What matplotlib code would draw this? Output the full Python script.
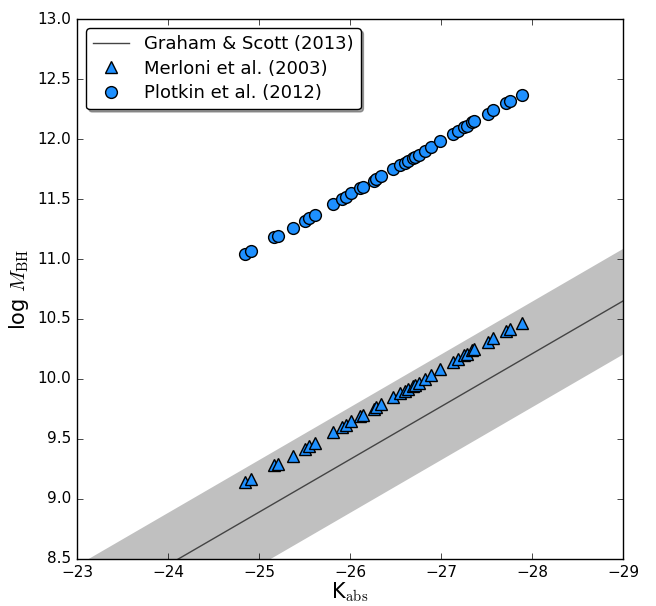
import numpy as np
import matplotlib
matplotlib.use("Agg")
import matplotlib.pyplot as plt

# ==============================================================================
# DATA
# ==============================================================================
# absolute K-band magnitudes of the sample
K_ABS = [-24.85, -24.91, -25.17, -25.21, -25.37, -25.50, -25.55, -25.61,
         -25.81, -25.91, -25.96, -26.01, -26.11, -26.14, -26.26, -26.29,
         -26.34, -26.47, -26.55, -26.60, -26.64, -26.69, -26.71, -26.76,
         -26.82, -26.89, -26.99, -27.13, -27.19, -27.25, -27.29, -27.34,
         -27.36, -27.52, -27.57, -27.71, -27.76, -27.89]

# log M_BH, Plotkin et al. (2012)
LOGM_PLOTKIN = [11.04, 11.07, 11.18, 11.19, 11.26, 11.32, 11.34, 11.37,
                11.46, 11.50, 11.52, 11.55, 11.59, 11.60, 11.65, 11.67,
                11.69, 11.75, 11.78, 11.80, 11.82, 11.84, 11.85, 11.87,
                11.90, 11.93, 11.98, 12.04, 12.07, 12.10, 12.11, 12.14,
                12.15, 12.21, 12.24, 12.30, 12.32, 12.37]

# log M_BH, Merloni et al. (2003)
LOGM_MERLONI = [9.14, 9.17, 9.28, 9.29, 9.36, 9.42, 9.44, 9.47,
                9.56, 9.60, 9.62, 9.65, 9.69, 9.70, 9.75, 9.77,
                9.79, 9.85, 9.88, 9.90, 9.92, 9.94, 9.95, 9.97,
                10.00, 10.03, 10.08, 10.14, 10.17, 10.20, 10.21, 10.24,
                10.25, 10.31, 10.34, 10.40, 10.42, 10.47]

# Graham & Scott (2013) relation: log M = GS_A + GS_B * K, scatter GS_RMS
GS_A = -2.11
GS_B = -0.44
GS_RMS = 0.44

# ==============================================================================
# PLOT
# ==============================================================================
plt.style.use("classic")
plt.rcParams["figure.facecolor"] = "white"
plt.rcParams["savefig.facecolor"] = "white"

fig = plt.figure(figsize=(6.56, 6.06), dpi=100)
ax = fig.add_axes([0.1174, 0.0776, 0.8323, 0.891])

k_line = np.linspace(-23, -29, 200)
m_line = GS_A + GS_B * k_line
ax.fill_between(k_line, m_line - GS_RMS, m_line + GS_RMS,
                color="#c0c0c0", linewidth=0, zorder=1)
ax.plot(k_line, m_line, color="#444444", lw=1.0, zorder=2,
        label="Graham & Scott (2013)")

ax.plot(K_ABS, LOGM_MERLONI, "^", color="#1e90ff", mec="black", mew=1.0,
        ms=9, zorder=3, label="Merloni et al. (2003)")
ax.plot(K_ABS, LOGM_PLOTKIN, "o", color="#1e90ff", mec="black", mew=1.0,
        ms=8.5, zorder=3, label="Plotkin et al. (2012)")

ax.set_xlim(-23, -29)
ax.set_ylim(8.5, 13.0)
ax.set_xticks(np.arange(-23, -30, -1))
ax.set_yticks(np.arange(8.5, 13.01, 0.5))
ax.tick_params(labelsize=11)

ax.set_xlabel(r"K$_{\rm abs}$", fontsize=15, labelpad=1)
ax.set_ylabel(r"log $M_{\rm BH}$", fontsize=15)

ax.legend(loc="upper left", numpoints=1, fontsize=13, shadow=True,
          fancybox=True, framealpha=1, labelspacing=0.35)

plt.savefig("out.png", dpi=100)
plt.close()
